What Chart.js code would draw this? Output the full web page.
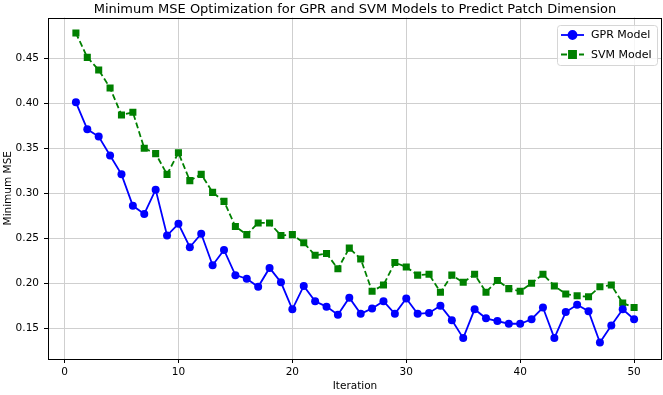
<!DOCTYPE html>
<html>
<head>
<meta charset="utf-8">
<script src="https://cdn.jsdelivr.net/npm/chart.js@4"></script>
<style>
  html, body { margin: 0; padding: 0; background: #fff; overflow: hidden; }
  canvas { display: block; }
</style>
</head>
<body>
<!-- a bit wider than the window: chart.js keeps ~4px free on the right we don't want -->
<canvas id="chart" width="667" height="395"></canvas>
<script>
const iterations = [1,2,3,4,5,6,7,8,9,10,11,12,13,14,15,16,17,18,19,20,21,22,23,24,25,
  26,27,28,29,30,31,32,33,34,35,36,37,38,39,40,41,42,43,44,45,46,47,48,49,50];

const gprMse = [0.401,0.371,0.363,0.342,0.321,0.286,0.277,0.304,0.253,0.266,
  0.240,0.255,0.220,0.237,0.209,0.205,0.196,0.217,0.201,0.171,
  0.197,0.180,0.174,0.165,0.184,0.166,0.172,0.180,0.166,0.183,
  0.166,0.167,0.175,0.159,0.139,0.171,0.161,0.158,0.155,0.155,
  0.160,0.173,0.139,0.168,0.176,0.169,0.134,0.153,0.171,0.160];

const svmMse = [0.478,0.451,0.437,0.417,0.387,0.390,0.350,0.344,0.321,0.345,
  0.314,0.321,0.301,0.291,0.263,0.254,0.267,0.267,0.253,0.254,
  0.245,0.231,0.233,0.216,0.239,0.227,0.191,0.198,0.223,0.218,
  0.209,0.210,0.190,0.209,0.201,0.210,0.190,0.203,0.194,0.191,
  0.200,0.210,0.197,0.188,0.186,0.185,0.196,0.198,0.178,0.173];

const xTicks = [0, 10, 20, 30, 40, 50];
const yTicks = [0.15, 0.20, 0.25, 0.30, 0.35, 0.40, 0.45];

const FONT = "'DejaVu Sans', sans-serif";

// matplotlib style frame around the plot
const framePlugin = {
  id: 'frame',
  afterDatasetsDraw(chart) {
    const a = chart.chartArea;
    const ctx = chart.ctx;
    ctx.save();
    ctx.strokeStyle = '#000';
    ctx.lineWidth = 1;
    ctx.strokeRect(Math.round(a.left) + 0.5, Math.round(a.top) + 0.5,
      Math.round(a.right - a.left) - 1, Math.round(a.bottom - a.top) - 1);
    ctx.restore();
  }
};

// legend box in the upper right, line + marker like matplotlib
const legendPlugin = {
  id: 'mplLegend',
  afterDraw(chart) {
    const ctx = chart.ctx;
    const a = chart.chartArea;
    const bx = Math.round(a.right) - 105, by = Math.round(a.top) + 7, bw = 100, bh = 40;
    ctx.save();
    ctx.beginPath();
    ctx.roundRect(bx + 0.5, by + 0.5, bw, bh, 3);
    ctx.fillStyle = 'rgba(255,255,255,0.8)';
    ctx.fill();
    ctx.strokeStyle = '#d6d6d6';
    ctx.lineWidth = 1;
    ctx.stroke();

    chart.data.datasets.forEach((ds, i) => {
      const y = by + 10 + i * 19.5;
      const x0 = bx + 4, x1 = bx + 27;
      ctx.beginPath();
      ctx.setLineDash(ds.borderDash || []);
      ctx.strokeStyle = ds.borderColor;
      ctx.lineWidth = ds.borderWidth;
      ctx.moveTo(x0, y);
      ctx.lineTo(x1, y);
      ctx.stroke();
      ctx.setLineDash([]);
      Chart.helpers.drawPoint(ctx, {
        pointStyle: ds.pointStyle,
        radius: ds.pointRadius,
        borderWidth: 1
      }, (x0 + x1) / 2, y);
      ctx.fillStyle = ds.backgroundColor;
      ctx.fill();
      ctx.fillStyle = '#000';
      ctx.font = '11px ' + FONT;
      ctx.textBaseline = 'middle';
      ctx.textAlign = 'left';
      ctx.fillText(ds.label, bx + 34, y + 0.5);
    });
    ctx.restore();
  }
};

const ctx = document.getElementById('chart');

new Chart(ctx, {
  type: 'line',
  data: {
    datasets: [{
      label: 'GPR Model',
      data: iterations.map((it, i) => ({ x: it, y: gprMse[i] })),
      borderColor: '#0000ff',
      backgroundColor: '#0000ff',
      borderWidth: 1.8,
      pointStyle: 'circle',
      pointRadius: 4,
      pointBorderWidth: 0,
      tension: 0
    }, {
      label: 'SVM Model',
      data: iterations.map((it, i) => ({ x: it, y: svmMse[i] })),
      borderColor: '#008000',
      backgroundColor: '#008000',
      borderWidth: 1.8,
      borderDash: [6, 3],
      pointStyle: 'rect',
      pointRadius: 5,
      pointBorderWidth: 0,
      tension: 0
    }]
  },
  options: {
    responsive: false,
    animation: false,
    layout: { padding: { right: 2, left: 0, bottom: 0, top: 0 } },
    plugins: {
      legend: { display: false },
      tooltip: { enabled: false },
      title: {
        display: true,
        fullSize: false,   // centre over the plot, like matplotlib
        text: 'Minimum MSE Optimization for GPR and SVM Models to Predict Patch Dimension',
        color: '#000',
        font: { family: FONT, size: 13, weight: 'normal' },
        padding: { top: 1.5, bottom: 0.4 }
      }
    },
    scales: {
      x: {
        type: 'linear',
        min: -1.45,
        max: 52.45,
        afterBuildTicks(scale) {
          scale.ticks = xTicks.map(v => ({ value: v }));
        },
        afterFit(scale) {
          scale.height = 36;
          scale.paddingLeft = 0;
          scale.paddingRight = 0;
        },
        ticks: {
          color: '#000',
          font: { family: FONT, size: 10.5 },
          padding: 3,
          maxRotation: 0,
          callback: v => String(v)
        },
        grid: {
          color: '#cfcfcf',
          lineWidth: 1,
          tickColor: '#000',
          tickLength: 4
        },
        border: { display: false },
        title: {
          display: true,
          text: 'Iteration',
          color: '#000',
          font: { family: FONT, size: 10.5 },
          padding: { top: 0, bottom: 2 }
        }
      },
      y: {
        min: 0.1158,
        max: 0.4953,
        afterBuildTicks(scale) {
          scale.ticks = yTicks.map(v => ({ value: v }));
        },
        afterFit(scale) { scale.width = 48; },
        ticks: {
          color: '#000',
          font: { family: FONT, size: 10.5 },
          padding: 5,
          callback: v => Number(v).toFixed(2)
        },
        grid: {
          color: '#cfcfcf',
          lineWidth: 1,
          tickColor: '#000',
          tickLength: 4
        },
        border: { display: false },
        title: {
          display: true,
          text: 'Minimum MSE',
          color: '#000',
          font: { family: FONT, size: 10.5 },
          padding: { top: 2, bottom: 0 }
        }
      }
    }
  },
  plugins: [framePlugin, legendPlugin]
});
</script>
</body>
</html>
